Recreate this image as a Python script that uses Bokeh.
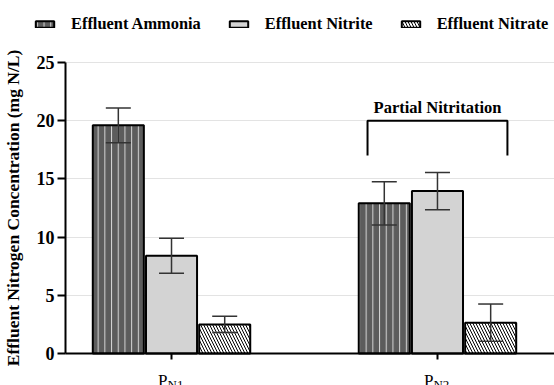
from bokeh.plotting import figure
from bokeh.models import (ColumnDataSource, Range1d, Whisker, TeeHead, Label,
                          Legend, LegendItem, FixedTicker, LinearAxis, Grid,
                          BoxAnnotation)
from bokeh.embed import file_html
from bokeh.resources import INLINE

# ---- data ----
groups = ["PN1", "PN2"]
group_x = [1, 2]
ammonia = [19.6, 12.9]
ammonia_err = [1.5, 1.85]
nitrite = [8.4, 13.95]
nitrite_err = [1.5, 1.6]
nitrate = [2.5, 2.65]
nitrate_err = [0.7, 1.6]
series_names = ["Effluent Ammonia", "Effluent Nitrite", "Effluent Nitrate"]
y_ticks = [0, 5, 10, 15, 20, 25]
bracket_text = "Partial Nitritation"

SERIF = "Liberation Serif"
offsets = [-0.2, 0.0, 0.2]
bar_w = 0.192
X0, X1 = 0.357, 2.44       # full canvas in data units
YAX = 0.6015               # where the y axis sits
Y0, Y1 = -2.749, 30.326

p = figure(width=554, height=385, output_backend="svg", toolbar_location=None,
           x_range=Range1d(X0, X1), y_range=Range1d(Y0, Y1),
           x_axis_location=None, y_axis_location=None,
           min_border_left=0, min_border_right=0, min_border_top=0,
           min_border_bottom=0)
p.outline_line_color = None
p.background_fill_color = "white"
p.center = [r for r in p.center if not isinstance(r, Grid)]

grid = Grid(dimension=1, ticker=FixedTicker(ticks=y_ticks),
            grid_line_color="#e3e3e3", grid_line_width=1)
if "cross_bounds" in Grid.properties():
    grid.cross_bounds = (YAX, X1)
    p.add_layout(grid, "center")
else:
    p.add_layout(grid, "center")
    p.add_layout(BoxAnnotation(left=X0, right=YAX, fill_color="white",
                               fill_alpha=1, line_color=None, level="underlay"))

styles = [
    dict(fill_color="#5c5c5c", hatch_pattern="|", hatch_color="#d4d4d4",
         hatch_scale=6.7, hatch_weight=1),
    dict(fill_color="#d3d3d3"),
    dict(fill_color="white", hatch_pattern="\\", hatch_color="black",
         hatch_scale=6, hatch_weight=1),
]
vals = [ammonia, nitrite, nitrate]
errs = [ammonia_err, nitrite_err, nitrate_err]
renderers = []
for i in range(3):
    xs = [g + offsets[i] for g in group_x]
    src = ColumnDataSource(dict(
        x=xs, top=vals[i],
        upper=[v + e for v, e in zip(vals[i], errs[i])],
        lower=[v - e for v, e in zip(vals[i], errs[i])]))
    r = p.vbar(x="x", top="top", width=bar_w, source=src,
               line_color="black", line_width=2, **styles[i])
    renderers.append(r)
    w = Whisker(base="x", upper="upper", lower="lower", source=src,
                dimension="height", line_color="#333333", line_width=1.5,
                level="overlay",
                upper_head=TeeHead(size=25, line_color="#333333", line_width=1.5),
                lower_head=TeeHead(size=25, line_color="#333333", line_width=1.5))
    p.add_layout(w)

# y axis
yaxis = LinearAxis(fixed_location=YAX, bounds=(0, 25),
                   ticker=FixedTicker(ticks=y_ticks))
yaxis.axis_line_width = 2
yaxis.axis_line_color = "black"
yaxis.major_tick_line_width = 2
yaxis.major_tick_out = 8
yaxis.major_tick_in = 0
yaxis.minor_tick_line_color = None
yaxis.major_label_text_font = SERIF
yaxis.major_label_text_font_style = "bold"
yaxis.major_label_text_font_size = "18px"
yaxis.major_label_text_color = "black"
yaxis.major_label_standoff = 3
yaxis.axis_label = "Effluent Nitrogen Concentration (mg N/L)"
yaxis.axis_label_text_font = SERIF
yaxis.axis_label_text_font_style = "bold"
yaxis.axis_label_text_font_size = "17.5px"
yaxis.axis_label_text_color = "black"
yaxis.axis_label_standoff = 11
p.add_layout(yaxis, "left")

# x axis
xaxis = LinearAxis(fixed_location=0, bounds=(YAX, X1),
                   ticker=FixedTicker(ticks=group_x))
xaxis.axis_line_width = 2
xaxis.axis_line_color = "black"
xaxis.major_tick_line_width = 2
xaxis.major_tick_out = 6
xaxis.major_tick_in = 0
xaxis.minor_tick_line_color = None
xaxis.major_label_overrides = {g: "" for g in group_x}
xaxis.major_label_text_font_size = "1px"
p.add_layout(xaxis, "below")

# category labels with subscript
for g, name in zip(group_x, groups):
    p.add_layout(Label(x=g, y=0, y_offset=-27, text=name[0],
                       x_offset=-4, text_align="right", text_baseline="alphabetic",
                       text_font=SERIF, text_font_size="17px", text_color="black"))
    p.add_layout(Label(x=g, y=0, y_offset=-31, text=name[1:],
                       x_offset=-4, text_align="left", text_baseline="alphabetic",
                       text_font=SERIF, text_font_size="13px", text_color="black"))

# bracket over second group
bx = group_x[1]
p.line(x=[bx - 0.263, bx - 0.263, bx + 0.263, bx + 0.263], y=[17, 20, 20, 17],
       line_color="black", line_width=2)
p.add_layout(Label(x=bx, y=20, text=bracket_text, y_offset=4, text_align="center",
                   text_baseline="bottom", text_font=SERIF, text_font_style="bold",
                   text_font_size="16.5px", text_color="black"))

legend = Legend(items=[LegendItem(label=n, renderers=[r]) for n, r in zip(series_names, renderers)],
                orientation="horizontal", location=(33, 385 - 34),
                padding=0, margin=0, spacing=26, label_standoff=15,
                glyph_width=23, glyph_height=8,
                border_line_color=None, background_fill_alpha=0,
                label_text_font=SERIF, label_text_font_style="bold",
                label_text_font_size="16.4px", label_text_color="black")
p.add_layout(legend)

open("out.html", "w").write(file_html(p, INLINE))
